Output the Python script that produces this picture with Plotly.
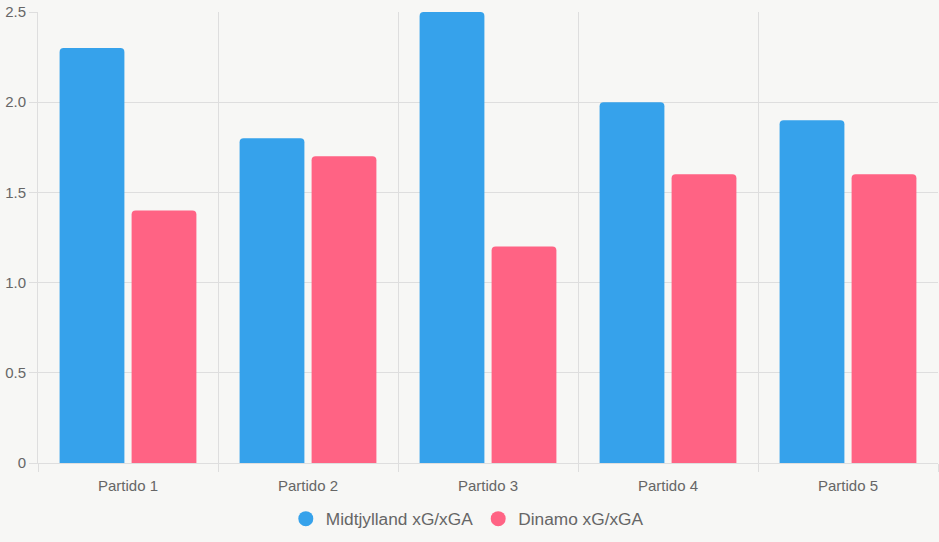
import plotly.graph_objects as go

categories = ["Partido 1", "Partido 2", "Partido 3", "Partido 4", "Partido 5"]
midtjylland = [2.3, 1.8, 2.5, 2.0, 1.9]
dinamo = [1.4, 1.7, 1.2, 1.6, 1.6]
series_names = ["Midtjylland xG/xGA", "Dinamo xG/xGA"]
y_ticks = [0, 0.5, 1.0, 1.5, 2.0, 2.5]
y_tick_text = ["0", "0.5", "1.0", "1.5", "2.0", "2.5"]

BLUE = "#36a2eb"
PINK = "#ff6384"
GRID = "#dedede"
TEXT = "#666666"
BG = "#f7f7f5"
FONT = "Liberation Sans, Arial, Helvetica, sans-serif"

fig = go.Figure()
for name, vals, col in [(series_names[0], midtjylland, BLUE), (series_names[1], dinamo, PINK)]:
    fig.add_trace(go.Bar(x=categories, y=vals, name=name, marker_color=col,
                         marker_line_width=0, showlegend=False))
for name, col in [(series_names[0], BLUE), (series_names[1], PINK)]:
    fig.add_trace(go.Scatter(x=[None], y=[None], mode="markers", name=name,
                             marker=dict(symbol="circle", size=15, color=col)))

fig.update_layout(
    width=939, height=542,
    margin=dict(l=38, r=1, t=12, b=79),
    paper_bgcolor=BG, plot_bgcolor=BG,
    barmode="group", bargap=0.2, bargroupgap=0.1, barcornerradius=4,
    font=dict(family=FONT, color=TEXT, size=15),
    legend=dict(orientation="h", x=0.477, xanchor="center", y=-0.124, yanchor="middle",
                font=dict(size=17.3, color=TEXT), bgcolor="rgba(0,0,0,0)"),
    xaxis=dict(type="category", tickson="boundaries", showgrid=True, gridcolor=GRID,
               gridwidth=1, ticks="outside", ticklen=8, tickcolor=GRID,
               showline=True, linecolor=GRID, tickfont=dict(size=15, color=TEXT),
               ticklabelstandoff=9, mirror=False),
    yaxis=dict(range=[0, 2.5], tickvals=y_ticks, ticktext=y_tick_text, showgrid=True,
               gridcolor=GRID, ticks="outside", ticklen=8, tickcolor=GRID,
               showline=True, linecolor=GRID, zeroline=False,
               tickfont=dict(size=15, color=TEXT)),
)
fig.write_html("out.html")
